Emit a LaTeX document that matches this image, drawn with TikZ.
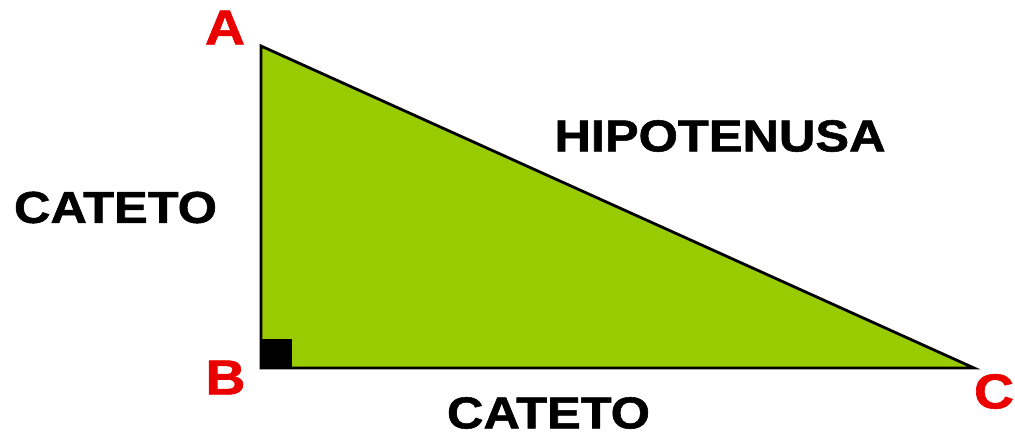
\documentclass[tikz,border=0pt]{standalone}
\usepackage{fontspec}
\setmainfont{Liberation Sans}
\newfontfamily\heavyfont[FakeBold=1.2]{Liberation Sans Bold}
\usetikzlibrary{positioning}
\definecolor{leaf}{RGB}{153,204,0}
\definecolor{vred}{RGB}{235,0,0}
\newcommand{\wide}[1]{\scalebox{1.13}[1]{#1}}

\begin{document}
\begin{tikzpicture}[x=1pt,y=-1pt,
    side/.style={font=\fontsize{44.7}{48}\heavyfont,inner sep=0pt},
    vertex/.style={font=\fontsize{49}{52}\heavyfont,text=vred,inner sep=0pt}]
  \useasboundingbox (0,0) rectangle (1015,437);
  % triangle corners
  \coordinate (A) at (261,46);
  \coordinate (B) at (261,368);
  \coordinate (C) at (974,368);
  \coordinate (Q) at (292,339);
  \filldraw[fill=leaf,line width=2.8pt] (A) -- (B) -- (C) -- cycle;
  \fill (B) rectangle (Q);
  % corner labels
  \node[vertex] (labA) at (225,27.5) {\wide{A}};
  \node[vertex] (labB) at (225.5,377.5) {\wide{B}};
  \node[vertex] (labC) at (994,391.5) {\wide{C}};
  % side labels
  \node[side] (hyp) at (720,136) {\wide{HIPOTENUSA}};
  \node[side] (legL) at (115.5,207.5) {\wide{CATETO}};
  \node[side] (legB) at (548.5,413) {\wide{CATETO}};
\end{tikzpicture}
\end{document}
